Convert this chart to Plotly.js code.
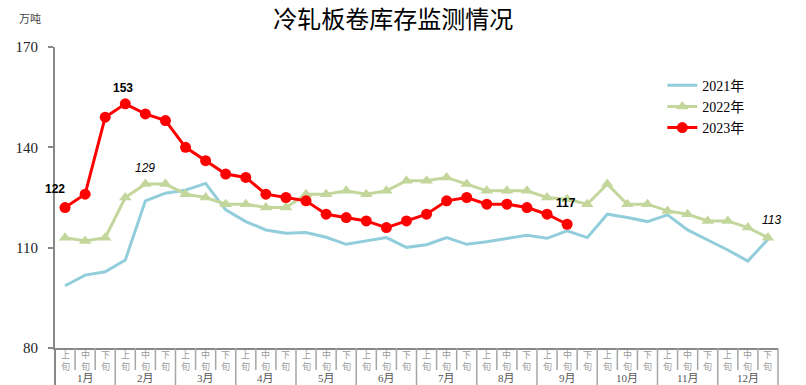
<!DOCTYPE html>
<html><head><meta charset="utf-8">
<script src="https://cdn.plot.ly/plotly-3.0.1.min.js"></script>
<style>html,body{margin:0;padding:0;background:#fff}#chart{width:806px;height:385px}</style>
</head><body><div id="chart"></div>
<script>
const months = ["1月","2月","3月","4月","5月","6月","7月","8月","9月","10月","11月","12月"];
const dekads = ["上旬","中旬","下旬"];
const categories = [];
months.forEach(m => dekads.forEach(d => categories.push(m + d)));

const y2021 = [98.6, 101.8, 102.8, 106.3, 124, 126.3, 127.2, 129.2, 121.3, 117.8, 115.3, 114.3,
               114.5, 113.1, 111, 112.1, 113, 110.1, 110.9, 113, 111, 111.8, 112.7, 113.7,
               112.8, 115, 113, 120, 119, 117.8, 119.8, 115.3, 112.3, 109.3, 106, 112.5];
const y2022 = [113, 112, 113, 125, 129, 129, 126, 125, 123, 123, 122, 122,
               126, 126, 127, 126, 127, 130, 130, 131, 129, 127, 127, 127,
               125, 124.5, 123, 129, 123, 123, 121, 120, 118, 118, 116, 113];
const y2023 = [122, 126, 149, 153, 150, 148, 140, 136, 132, 131, 126, 125,
               124, 120, 119, 118, 116, 118, 120, 124, 125, 123, 123, 122, 120, 117];
const yTicks = [80, 110, 140, 170];
// indices of the points that carry value labels in the reference
const labelIdx2023 = [0, 3, 25];
const labelIdx2022 = [4, 35];

const traces = [
  {name: "2021年", x: categories.slice(0, y2021.length), y: y2021, type: "scatter", mode: "lines",
   line: {color: "#92cddc", width: 3}},
  {name: "2022年", x: categories.slice(0, y2022.length), y: y2022, type: "scatter", mode: "lines+markers",
   line: {color: "#c3d69b", width: 3}, marker: {symbol: "triangle-up", size: 11, color: "#c3d69b"}},
  {name: "2023年", x: categories.slice(0, y2023.length), y: y2023, type: "scatter", mode: "lines+markers",
   line: {color: "#ff0000", width: 3}, marker: {symbol: "circle", size: 11, color: "#ff0000"}}
];

const annotations = [];
const shapes = [];
const sepColor = "#a6a6a6";
categories.forEach((c, i) => {
  const d = dekads[i % 3];
  annotations.push({xref: "x", yref: "paper", x: c, y: -0.04, text: d[0] + "<br>" + d[1],
    showarrow: false, yanchor: "middle", font: {family: "Noto Sans CJK SC", size: 9, color: "#999"}});
  if (i > 0) {
    const isMonth = i % 3 === 0;
    shapes.push({type: "line", xref: "x", yref: "paper", x0: i - 0.5, x1: i - 0.5, y0: 0,
      y1: isMonth ? -0.125 : -0.073, line: {color: sepColor, width: 1.5}});
  }
});
months.forEach((m, k) => {
  annotations.push({xref: "x", yref: "paper", x: 3 * k + 1, y: -0.1, text: m, showarrow: false,
    yanchor: "middle", font: {family: "Liberation Serif, Noto Sans CJK SC", size: 11, color: "#555"}});
});
shapes.push({type: "line", xref: "paper", yref: "paper", x0: 0, x1: 0, y0: 0, y1: -0.125, line: {color: "#888", width: 2}});
shapes.push({type: "line", xref: "paper", yref: "paper", x0: 1, x1: 1, y0: 0, y1: -0.125, line: {color: sepColor, width: 1.5}});

const lblFont = {family: "Liberation Sans, Arial", size: 12, color: "#000"};
const lblShift23 = [[-10, 19], [-2, 16], [-1, 21]];
labelIdx2023.forEach((i, k) => {
  annotations.push({x: categories[i], y: y2023[i], text: "<b>" + y2023[i] + "</b>", showarrow: false,
    xshift: lblShift23[k][0], yshift: lblShift23[k][1], font: lblFont});
});
const lblShift22 = [[0, 16], [4, 18]];
labelIdx2022.forEach((i, k) => {
  annotations.push({x: categories[i], y: y2022[i], text: "<i>" + y2022[i] + "</i>", showarrow: false,
    xshift: lblShift22[k][0], yshift: lblShift22[k][1], font: lblFont});
});
annotations.push({xref: "paper", yref: "paper", x: -0.035, y: 1.096, xanchor: "center", yanchor: "middle",
  text: "万吨", showarrow: false, font: {family: "Noto Sans CJK SC", size: 11, color: "#444"}});

const layout = {
  width: 806, height: 385,
  margin: {l: 55, r: 28, t: 47, b: 37},
  paper_bgcolor: "#fff", plot_bgcolor: "#fff",
  title: {text: "冷轧板卷库存监测情况", x: 0.488, xanchor: "center", y: 0.948, yanchor: "middle",
    font: {family: "Noto Sans CJK SC", size: 24, color: "#000"}},
  xaxis: {type: "category", categoryarray: categories, categoryorder: "array", range: [-0.5, 35.5],
    showticklabels: false, ticks: "", showgrid: false, zeroline: false,
    showline: true, linecolor: "#888", linewidth: 2, fixedrange: true},
  yaxis: {range: [80, 170], tickvals: yTicks, ticktext: yTicks.map(String), ticks: "outside", ticklen: 5,
    tickcolor: "#888", tickwidth: 2, showline: true, linecolor: "#888", linewidth: 2, showgrid: false,
    zeroline: false, ticklabelstandoff: 7,
    tickfont: {family: "Liberation Serif", size: 15, color: "#222"}},
  legend: {x: 0.84, y: 0.925, xanchor: "left", yanchor: "top", bgcolor: "rgba(0,0,0,0)",
    font: {family: "Liberation Serif, Noto Sans CJK SC", size: 14, color: "#000"}, tracegroupgap: 0},
  showlegend: true,
  annotations: annotations,
  shapes: shapes
};
Plotly.newPlot("chart", traces, layout, {displayModeBar: false, staticPlot: true});
</script></body></html>
